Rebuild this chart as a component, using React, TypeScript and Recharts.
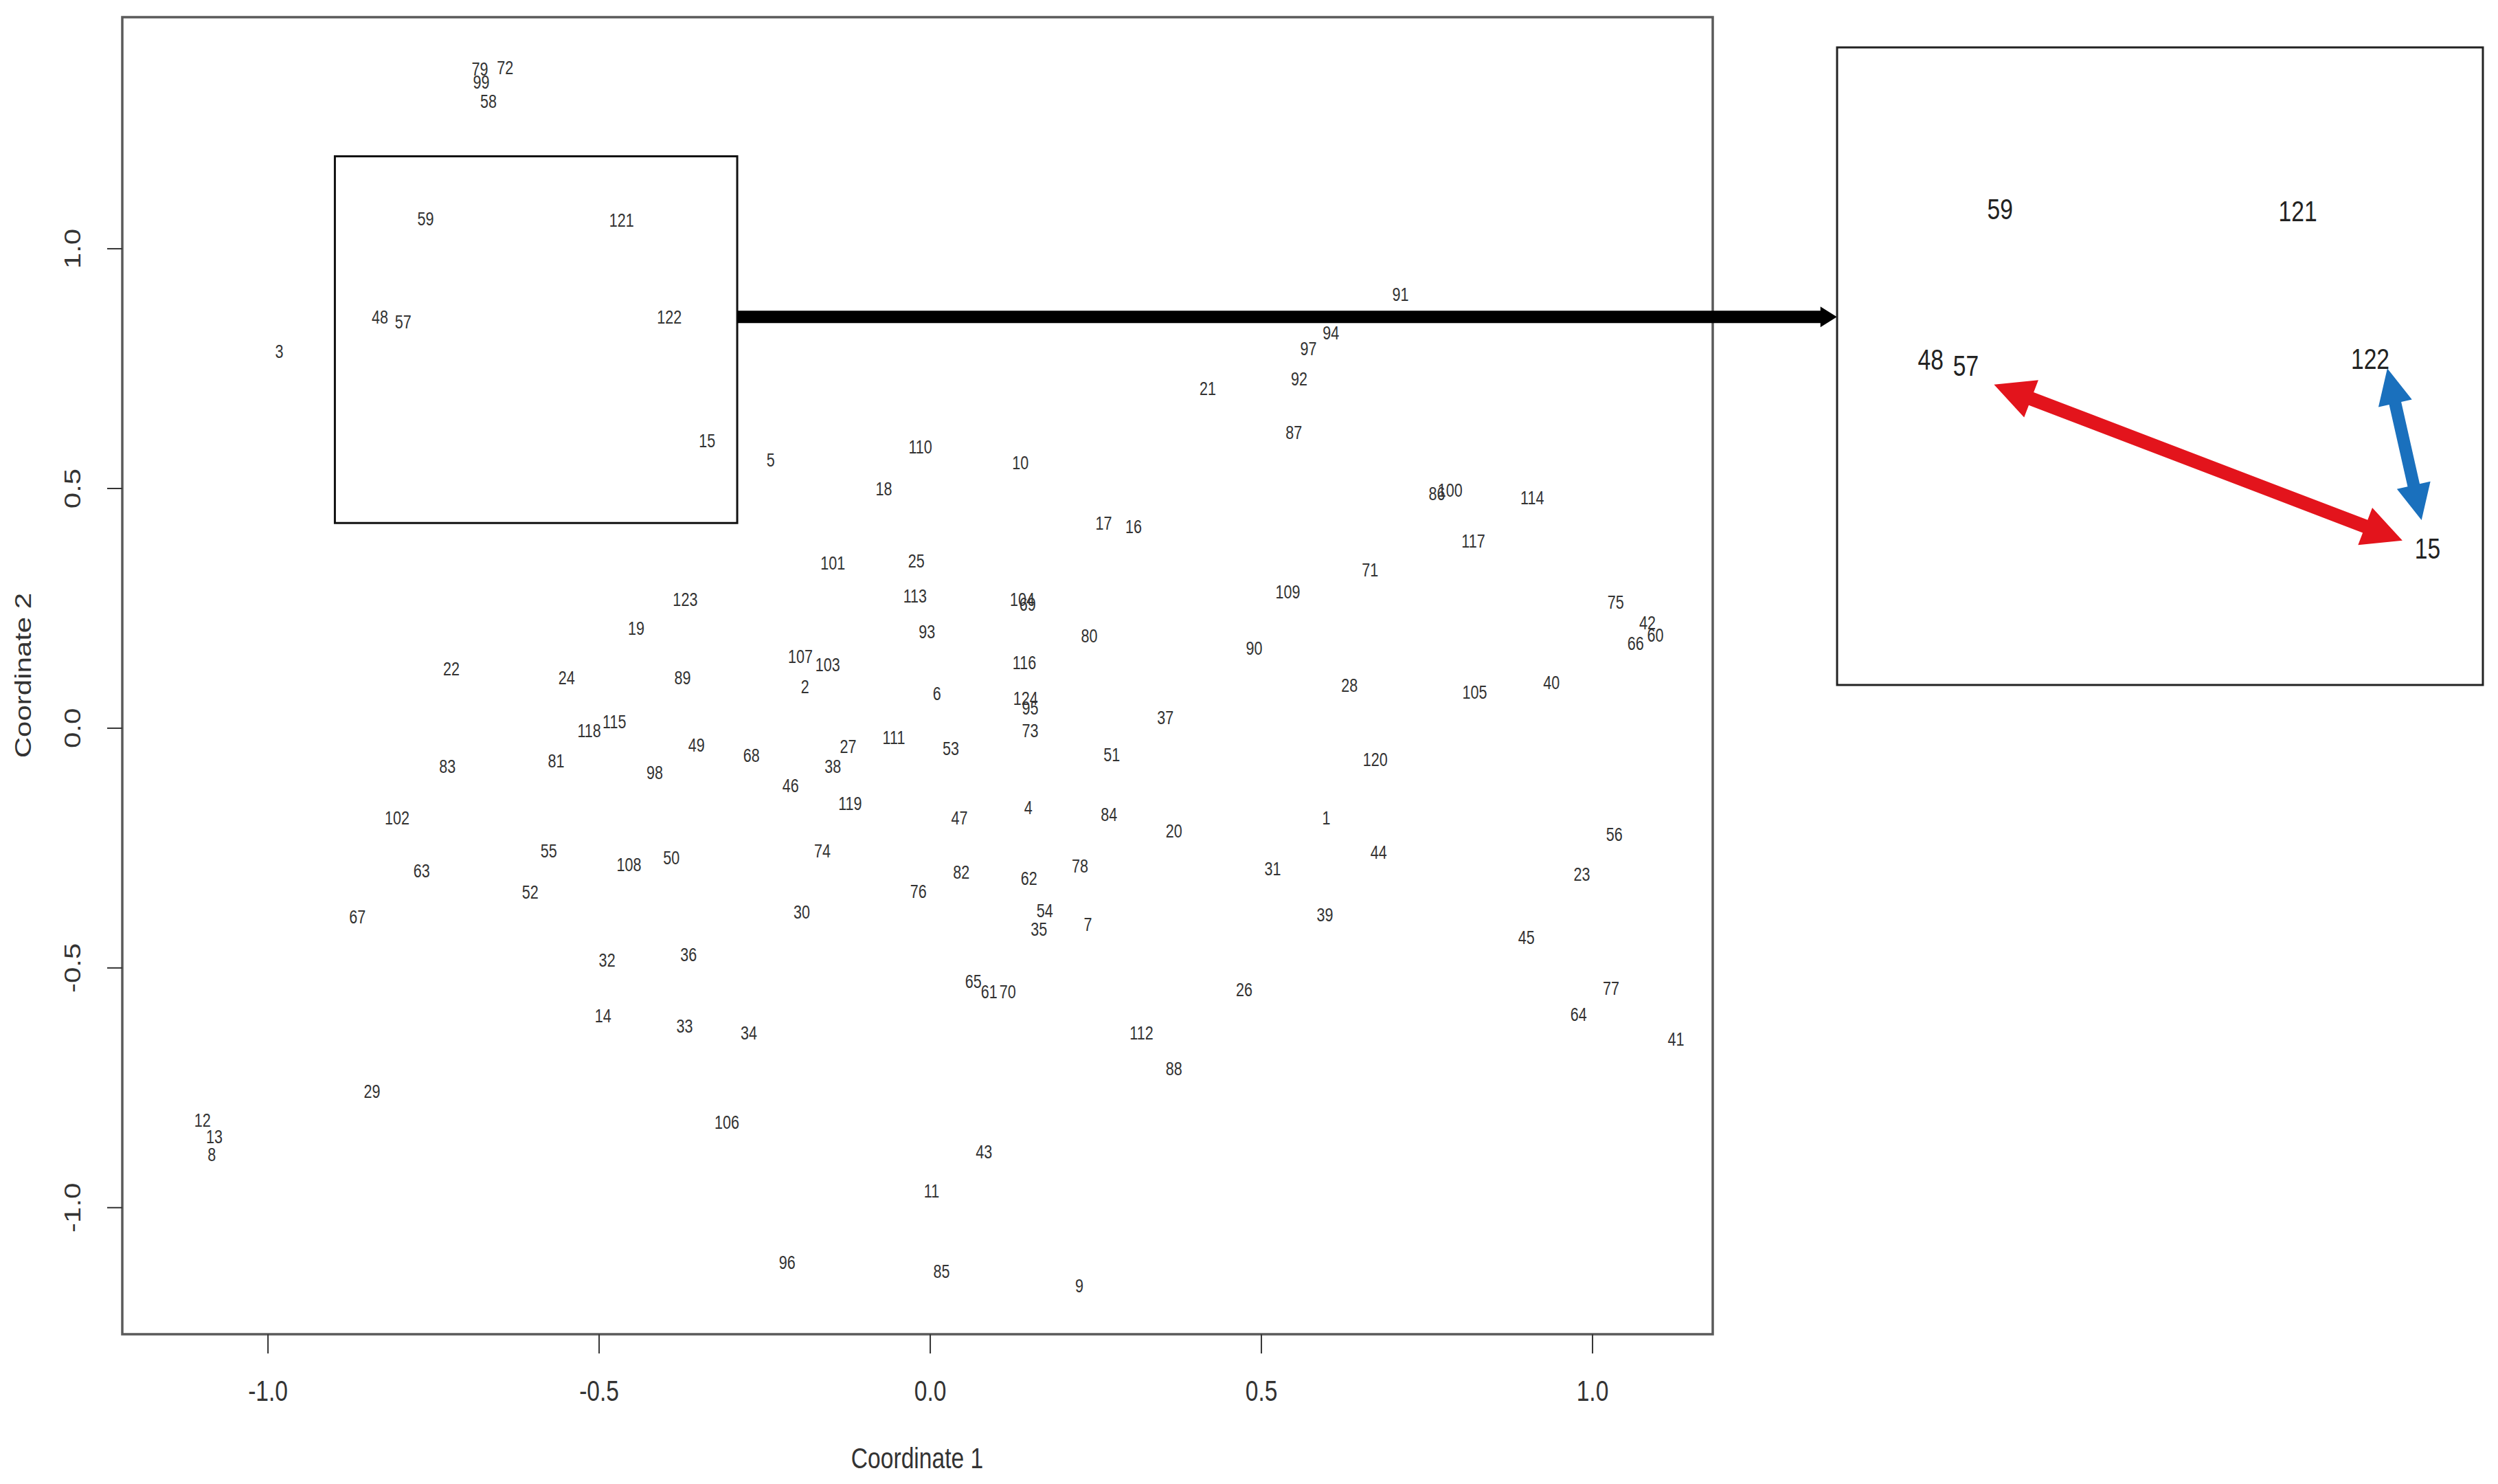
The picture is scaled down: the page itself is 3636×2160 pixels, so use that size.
import { ReferenceArea, ReferenceLine, Scatter, ScatterChart, XAxis, YAxis } from 'recharts';

// MDS coordinates, one entry per sample id
const pointIds = [
  1, 2, 3, 4, 5, 6, 7, 8, 9, 10, 11, 12, 13, 14, 15, 16, 17, 18, 19, 20, 21, 22, 23, 24, 25, 26, 27, 28, 29, 30,
  31, 32, 33, 34, 35, 36, 37, 38, 39, 40, 41, 42, 43, 44, 45, 46, 47, 48, 49, 50, 51, 52, 53, 54, 55, 56, 57, 58,
  59, 60, 61, 62, 63, 64, 65, 66, 67, 68, 69, 70, 71, 72, 73, 74, 75, 76, 77, 78, 79, 80, 81, 82, 83, 84, 85, 86,
  87, 88, 89, 90, 91, 92, 93, 94, 95, 96, 97, 98, 99, 100, 101, 102, 103, 104, 105, 106, 107, 108, 109, 110, 111,
  112, 113, 114, 115, 116, 117, 118, 119, 120, 121, 122, 123, 124,
];

const coord1 = [
  0.598, -0.189, -0.983, 0.148, -0.241, 0.01, 0.238, -1.085, 0.225, 0.136, 0.002, -1.099, -1.081, -0.494, -0.337,
  0.307, 0.262, -0.07, -0.444, 0.368, 0.419, -0.723, 0.984, -0.549, -0.021, 0.474, -0.124, 0.633, -0.843, -0.194,
  0.517, -0.488, -0.371, -0.274, 0.164, -0.365, 0.355, -0.147, 0.596, 0.938, 1.126, 1.083, 0.081, 0.677, 0.9,
  -0.211, 0.044, -0.831, -0.353, -0.391, 0.274, -0.604, 0.031, 0.173, -0.576, 1.033, -0.796, -0.667, -0.762, 1.095,
  0.089, 0.149, -0.768, 0.979, 0.065, 1.065, -0.865, -0.27, 0.147, 0.117, 0.664, -0.642, 0.151, -0.163, 1.035,
  -0.018, 1.028, 0.226, -0.68, 0.24, -0.565, 0.047, -0.729, 0.27, 0.017, 0.765, 0.549, 0.368, -0.374, 0.489, 0.71,
  0.557, -0.005, 0.605, 0.151, -0.216, 0.571, -0.416, -0.678, 0.785, -0.147, -0.805, -0.155, 0.139, 0.822, -0.307,
  -0.196, -0.455, 0.54, -0.015, -0.055, 0.319, -0.023, 0.909, -0.477, 0.142, 0.82, -0.515, -0.121, 0.672, -0.466,
  -0.394, -0.37, 0.144,
];

const coord2 = [
  -0.187, 0.086, 0.785, -0.166, 0.559, 0.072, -0.41, -0.89, -1.163, 0.553, -0.966, -0.818, -0.852, -0.6, 0.599,
  0.421, 0.427, 0.499, 0.208, -0.214, 0.708, 0.123, -0.305, 0.105, 0.348, -0.545, -0.038, 0.089, -0.757, -0.384,
  -0.293, -0.484, -0.621, -0.636, -0.42, -0.473, 0.022, -0.08, -0.389, 0.095, -0.648, 0.22, -0.884, -0.259, -0.437,
  -0.12, -0.187, 0.857, -0.035, -0.271, -0.055, -0.342, -0.043, -0.381, -0.256, -0.221, 0.848, 1.307, 1.062, 0.194,
  -0.55, -0.313, -0.297, -0.597, -0.529, 0.177, -0.393, -0.057, 0.258, -0.55, 0.33, 1.377, -0.005, -0.256, 0.262,
  -0.34, -0.543, -0.288, 1.375, 0.192, -0.069, -0.301, -0.08, -0.18, -1.133, 0.489, 0.616, -0.711, 0.105, 0.166,
  0.905, 0.729, 0.201, 0.824, 0.042, -1.114, 0.791, -0.092, 1.347, 0.496, 0.345, -0.187, 0.132, 0.269, 0.075,
  -0.822, 0.15, -0.285, 0.284, 0.586, -0.019, -0.636, 0.275, 0.481, 0.013, 0.137, 0.39, -0.005, -0.157, -0.065,
  1.059, 0.858, 0.268, 0.062,
];

const xTicks = [-1, -0.5, 0, 0.5, 1];
const yTicks = [-1, -0.5, 0, 0.5, 1];
const xDomain: [number, number] = [-1.22, 1.1815];
const yDomain: [number, number] = [-1.264, 1.483];

// highlighted window and the enlarged panel on the right
const zoomX: [number, number] = [-0.899, -0.2915];
const zoomY: [number, number] = [0.428, 1.193];
const insetIds = [59, 121, 48, 57, 122, 15];
const insetX: [number, number] = [-0.924, -0.282];
const insetY: [number, number] = [0.413, 1.283];
const connectorY = 0.858;
const connectorEndX = 1.369; // left edge of the enlarged panel, in x units
const redArrow = [
  { x: -0.768, y: 0.823 },
  { x: -0.362, y: 0.61 },
];
const blueArrow = [
  { x: -0.377, y: 0.845 },
  { x: -0.343, y: 0.638 },
];

const FONT = "'Liberation Sans', Arial, sans-serif";
const SQUISH = 0.8;

const points = pointIds.map((id, i) => ({ id, x: coord1[i], y: coord2[i] }));
const insetPoints = points.filter((p) => insetIds.includes(p.id));

const labelShape = (size: number, color: string) => (props: any) => {
  const { cx, cy, payload } = props;
  return (
    <text
      transform={`translate(${cx},${cy}) scale(${SQUISH},1)`}
      textAnchor="middle"
      dominantBaseline="central"
      fontFamily={FONT}
      fontSize={size}
      fill={color}
    >
      {payload.id}
    </text>
  );
};

function arrowPoints(x1: number, y1: number, x2: number, y2: number, w: number, hw: number, hl: number, both: boolean) {
  const len = Math.hypot(x2 - x1, y2 - y1);
  const ux = (x2 - x1) / len;
  const uy = (y2 - y1) / len;
  const nx = -uy;
  const ny = ux;
  const p = (bx: number, by: number, along: number, across: number) =>
    `${bx + ux * along + nx * across},${by + uy * along + ny * across}`;
  const pts: string[] = [];
  if (both) pts.push(p(x1, y1, 0, 0), p(x1, y1, hl, hw / 2), p(x1, y1, hl, w / 2));
  else pts.push(p(x1, y1, 0, w / 2));
  pts.push(p(x2, y2, -hl, w / 2), p(x2, y2, -hl, hw / 2), p(x2, y2, 0, 0), p(x2, y2, -hl, -hw / 2), p(x2, y2, -hl, -w / 2));
  if (both) pts.push(p(x1, y1, hl, -w / 2), p(x1, y1, hl, -hw / 2));
  else pts.push(p(x1, y1, 0, -w / 2));
  return pts.join(' ');
}

const arrowShape = (color: string, w: number, hw: number, hl: number, both: boolean) => (props: any) => (
  <polygon points={arrowPoints(props.x1, props.y1, props.x2, props.y2, w, hw, hl, both)} fill={color} />
);

const XTick = (props: any) => {
  const { x, y, payload } = props;
  return (
    <text
      transform={`translate(${x},${y + 53}) scale(${SQUISH},1)`}
      textAnchor="middle"
      dominantBaseline="central"
      fontFamily={FONT}
      fontSize={42}
      fill="#333"
    >
      {Number(payload.value).toFixed(1)}
    </text>
  );
};

const YTick = (props: any) => {
  const { x, y, payload } = props;
  return (
    <text
      transform={`translate(${x - 48},${y}) scale(${SQUISH},1) rotate(-90)`}
      textAnchor="middle"
      dominantBaseline="central"
      fontFamily={FONT}
      fontSize={42}
      fill="#333"
    >
      {Number(payload.value).toFixed(1)}
    </text>
  );
};

export default function App() {
  return (
    <div style={{ position: 'absolute', left: 0, top: 0, width: 3636, height: 2160, background: '#fff' }}>
      <ScatterChart width={3636} height={2160} margin={{ top: 25, right: 1143, bottom: 0, left: 0 }}>
        <XAxis
          type="number"
          dataKey="x"
          domain={xDomain}
          ticks={xTicks}
          allowDataOverflow
          axisLine={false}
          tickLine={{ stroke: '#333', strokeWidth: 2 }}
          tickSize={28}
          height={218}
          tick={<XTick />}
        />
        <YAxis
          type="number"
          dataKey="y"
          domain={yDomain}
          ticks={yTicks}
          allowDataOverflow
          axisLine={false}
          tickLine={{ stroke: '#333', strokeWidth: 2 }}
          tickSize={22}
          width={178}
          tick={<YTick />}
        />
        <ReferenceArea
          x1={xDomain[0]}
          x2={xDomain[1]}
          y1={yDomain[0]}
          y2={yDomain[1]}
          fill="none"
          stroke="#5a5a5a"
          strokeWidth={3.5}
          ifOverflow="visible"
        />
        <ReferenceArea
          x1={zoomX[0]}
          x2={zoomX[1]}
          y1={zoomY[0]}
          y2={zoomY[1]}
          fill="none"
          stroke="#111"
          strokeWidth={3}
          ifOverflow="visible"
        />
        <ReferenceLine
          segment={[
            { x: zoomX[1], y: connectorY },
            { x: connectorEndX, y: connectorY },
          ]}
          ifOverflow="visible"
          shape={arrowShape('#000', 18, 30, 24, false)}
        />
        <Scatter data={points} isAnimationActive={false} shape={labelShape(27, '#333')} />
      </ScatterChart>

      <div style={{ position: 'absolute', left: 2670, top: 65 }}>
        <ScatterChart width={948} height={936} margin={{ top: 4, right: 4, bottom: 4, left: 4 }}>
          <XAxis type="number" dataKey="x" domain={insetX} allowDataOverflow hide />
          <YAxis type="number" dataKey="y" domain={insetY} allowDataOverflow hide />
          <ReferenceArea
            x1={insetX[0]}
            x2={insetX[1]}
            y1={insetY[0]}
            y2={insetY[1]}
            fill="none"
            stroke="#222"
            strokeWidth={3}
            ifOverflow="visible"
          />
          <ReferenceLine segment={redArrow} ifOverflow="visible" shape={arrowShape('#e3141c', 20, 58, 58, true)} />
          <ReferenceLine segment={blueArrow} ifOverflow="visible" shape={arrowShape('#1a70bd', 18, 50, 52, true)} />
          <Scatter data={insetPoints} isAnimationActive={false} shape={labelShape(42, '#222')} />
        </ScatterChart>
      </div>

      <svg width={3636} height={2160} style={{ position: 'absolute', left: 0, top: 0, pointerEvents: 'none' }}>
        <text
          transform={`translate(1335,2123) scale(${SQUISH},1)`}
          textAnchor="middle"
          dominantBaseline="central"
          fontFamily={FONT}
          fontSize={42}
          fill="#333"
        >
          Coordinate 1
        </text>
        <text
          transform={`translate(34,983) scale(${SQUISH},1) rotate(-90)`}
          textAnchor="middle"
          dominantBaseline="central"
          fontFamily={FONT}
          fontSize={42}
          fill="#333"
        >
          Coordinate 2
        </text>
      </svg>
    </div>
  );
}
